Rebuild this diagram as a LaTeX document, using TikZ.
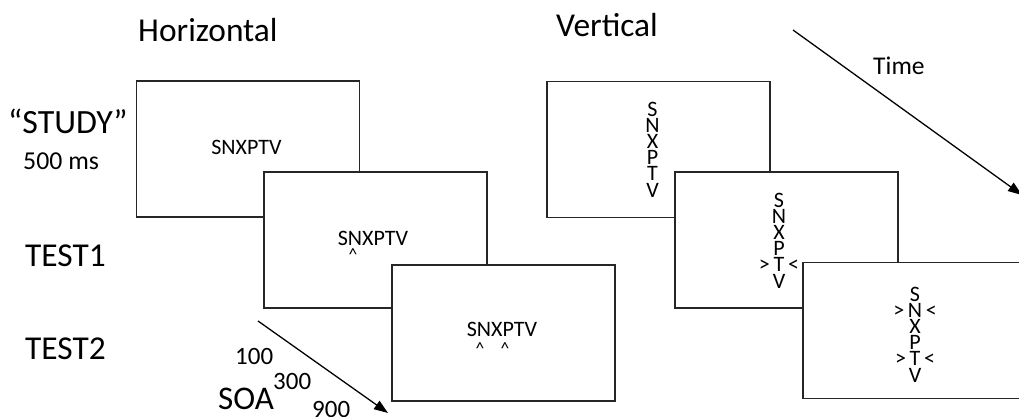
\documentclass[tikz,border=0pt]{standalone}
\usepackage{fontspec}
\setmainfont{Carlito}
\usetikzlibrary{arrows.meta}

\begin{document}
\begin{tikzpicture}[
  x=0.3mm, y=-0.3mm,
  schermo/.style={draw=black!85, line width=1.6pt, fill=white, minimum width=66.9mm, minimum height=40.8mm, inner sep=0pt},
  freccia/.style={draw=black, line width=1.1pt, -{Triangle[length=4.2mm, width=3mm]}},
  titolo/.style={inner sep=0pt, anchor=base west, font=\fontsize{28.5}{30}\selectfont},
  etichetta/.style={inner sep=0pt, anchor=base west, font=\fontsize{22}{24}\selectfont},
  parola/.style={inner sep=0pt, anchor=base, font=\fontsize{18.8}{20}\selectfont},
  colonna/.style={inner sep=0pt, align=center, font=\fontsize{18.8}{13.8}\selectfont},
  segno/.style={inner sep=0pt, anchor=north, font=\fontsize{15}{16}\selectfont}
]
\useasboundingbox (0,0) rectangle (1019,417);
\clip (0,0) rectangle (1019,417);

%--------------------------------------------------------------
% Intestazioni e righe
%--------------------------------------------------------------
\node[titolo] (orizzontale) at (138,42) {Horizontal};
\node[titolo] (verticale) at (556,37) {Vertical};
\node[titolo, font=\fontsize{29}{30}\selectfont] (studio) at (8,134) {“STUDY”};
\node[etichetta] (durata) at (23,170) {500 ms};
\node[titolo] (test1) at (25,267) {TEST1};
\node[titolo] (test2) at (25,359) {TEST2};

%--------------------------------------------------------------
% Stimoli orizzontali
%--------------------------------------------------------------
\node[schermo] (orizz1) at (248,149) {};
\node[parola] (parola1) at (246.5,155) {SNXPTV};
\node[schermo] (orizz2) at (375.5,240) {};
\node[parola] (parola2) at (373,246) {SNXPTV};
\node[segno] (segno21) at (353,248) {\textasciicircum};
\node[schermo] (orizz3) at (503.5,333) {};
\node[parola] (parola3) at (502,337) {SNXPTV};
\node[segno] (segno31) at (480,342) {\textasciicircum};
\node[segno] (segno32) at (505,342) {\textasciicircum};

%--------------------------------------------------------------
% Stimoli verticali
%--------------------------------------------------------------
\node[schermo] (vert1) at (658.5,149.5) {};
\node[colonna] (colonna1) at (652.5,149.5) {S\\N\\X\\P\\T\\V};
\node[schermo] (vert2) at (786.5,240) {};
\node[colonna] (colonna2) at (779,240.5) {S\\N\\X\\P\\\llap{>\,}T\rlap{\,<}\\V};
\node[schermo] (vert3) at (914.5,330.5) {};
\node[colonna] (colonna3) at (915,334.5) {S\\\llap{>\,}N\rlap{\,<}\\X\\P\\\llap{>\,}T\rlap{\,<}\\V};

%--------------------------------------------------------------
% Frecce del tempo e della SOA
%--------------------------------------------------------------
\coordinate (tempoinizio) at (793,30);
\coordinate (tempofine) at (1022,195);
\draw[freccia] (tempoinizio) -- (tempofine);
\node[etichetta, font=\fontsize{21.8}{24}\selectfont] (tempo) at (873,75) {Time};

\coordinate (soainizio) at (258,321);
\coordinate (soafine) at (388,413);
\draw[freccia] (soainizio) -- (soafine);
\node[titolo, font=\fontsize{28.2}{30}\selectfont] (soa) at (218,409) {SOA};
\node[etichetta, font=\fontsize{21.3}{24}\selectfont] (soa100) at (235,364) {100};
\node[etichetta, font=\fontsize{21.3}{24}\selectfont] (soa300) at (273,389) {300};
\node[etichetta, font=\fontsize{21.3}{24}\selectfont] (soa900) at (312,417) {900};

\end{tikzpicture}
\end{document}
